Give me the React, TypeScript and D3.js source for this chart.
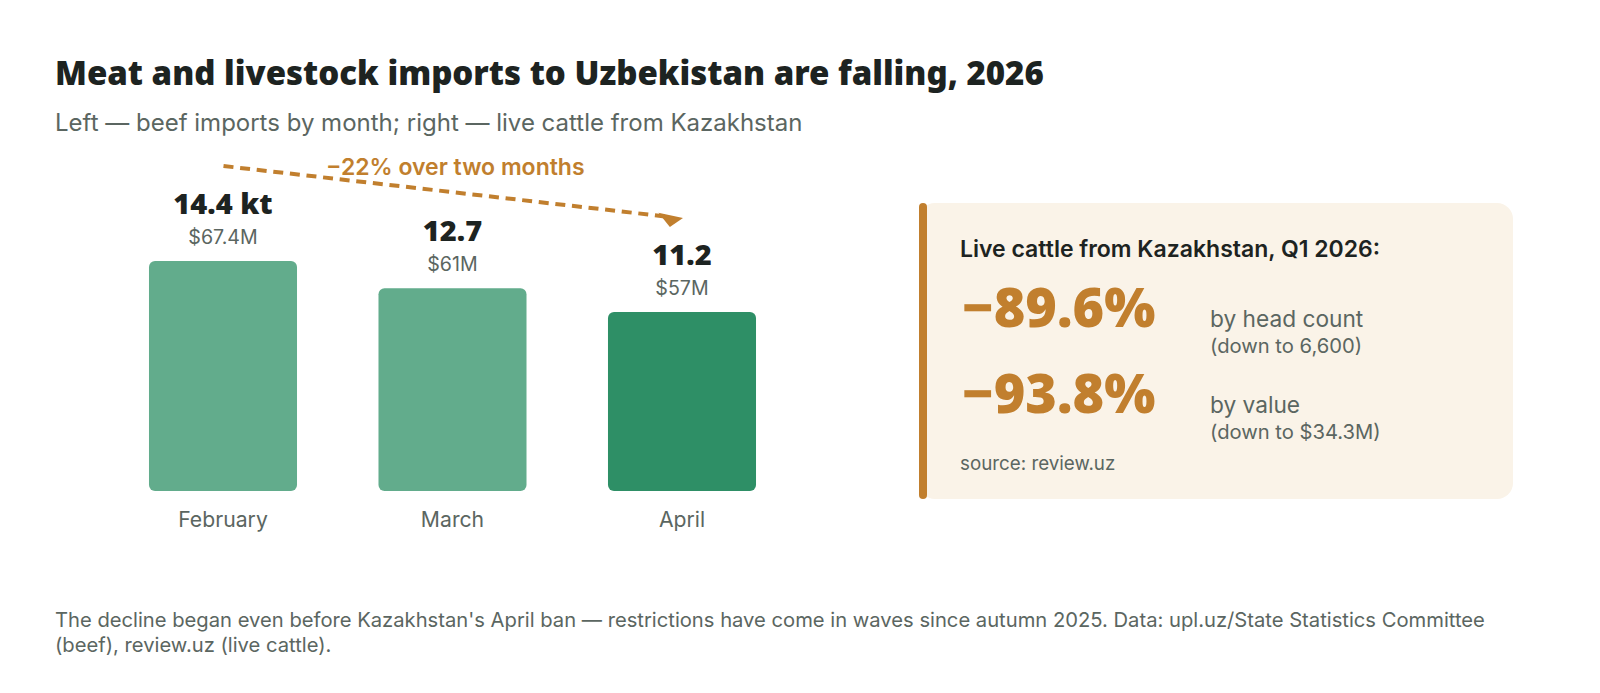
import React, { useEffect, useRef } from "react";
import * as d3 from "d3";

// beef imports by month, thousand tonnes / USD millions
const months = ["February", "March", "April"];
const volumes = [14.4, 12.7, 11.2];
const volumeLabels = ["14.4 kt", "12.7", "11.2"];
const valueLabels = ["$67.4M", "$61M", "$57M"];

// live cattle card
const cardStats = ["−89.6%", "−93.8%"];
const cardStatLabels = ["by head count", "by value"];
const cardStatNotes = ["(down to 6,600)", "(down to $34.3M)"];

const W = 1600;
const H = 693;
const BODY = "Inter, 'Noto Sans', sans-serif";
const HEAVY = "'Noto Sans', 'Open Sans', sans-serif";
const ORANGE = "#c17f2e";
const INK = "#1d2321";
const GREY = "#5b6661";

export default function App() {
    const svgRef = useRef<SVGSVGElement | null>(null);

    useEffect(() => {
        if (!svgRef.current) return;
        const svg = d3.select(svgRef.current);
        svg.selectAll("*").remove();

        svg.append("rect").attr("width", W).attr("height", H).attr("fill", "#fff");

        // heading
        svg.append("text")
            .attr("x", 55).attr("y", 85)
            .attr("font-family", HEAVY).attr("font-size", 33).attr("font-weight", 900)
            .attr("fill", INK)
            .text("Meat and livestock imports to Uzbekistan are falling, 2026");
        svg.append("text")
            .attr("x", 55).attr("y", 131)
            .attr("font-family", BODY).attr("font-size", 24)
            .attr("fill", GREY)
            .text("Left — beef imports by month; right — live cattle from Kazakhstan");

        // bars
        const x = d3.scaleBand<string>()
            .domain(months)
            .range([108.25, 796.75])
            .paddingInner(0.355)
            .paddingOuter(0.1775);
        const y = d3.scaleLinear().domain([0, 14.4]).range([491, 261]);

        const g = svg.append("g");
        months.forEach((m, i) => {
            const bx = x(m) ?? 0;
            const cx = bx + x.bandwidth() / 2;
            const top = y(volumes[i]);
            g.append("rect")
                .attr("x", bx).attr("y", top)
                .attr("width", x.bandwidth()).attr("height", y(0) - top)
                .attr("rx", 6)
                .attr("fill", i === months.length - 1 ? "#2e8f66" : "#62ac8c");
            g.append("text")
                .attr("x", cx).attr("y", top - 47)
                .attr("text-anchor", "middle")
                .attr("font-family", HEAVY).attr("font-size", 29).attr("font-weight", 900)
                .attr("fill", INK)
                .text(volumeLabels[i]);
            g.append("text")
                .attr("x", cx).attr("y", top - 17)
                .attr("text-anchor", "middle")
                .attr("font-family", BODY).attr("font-size", 19.6)
                .attr("fill", GREY)
                .text(valueLabels[i]);
            g.append("text")
                .attr("x", cx).attr("y", 527)
                .attr("text-anchor", "middle")
                .attr("font-family", BODY).attr("font-size", 21.2)
                .attr("fill", GREY)
                .text(m);
        });

        // trend arrow, from above February to above April
        svg.append("defs").append("marker")
            .attr("id", "arrowhead")
            .attr("markerUnits", "userSpaceOnUse")
            .attr("viewBox", "-15 -15 30 30")
            .attr("refX", 0).attr("refY", 0)
            .attr("markerWidth", 30).attr("markerHeight", 30)
            .attr("orient", "auto")
            .append("path")
            .attr("d", "M-12,-3 L13,-0.5 L1,10 Z")
            .attr("fill", ORANGE);

        const xStart = (x(months[0]) ?? 0) + x.bandwidth() / 2;
        const xEnd = (x(months[2]) ?? 0) + x.bandwidth() / 2;
        svg.append("line")
            .attr("x1", xStart + 0.5).attr("y1", 166)
            .attr("x2", xEnd - 12).attr("y2", 217)
            .attr("stroke", ORANGE).attr("stroke-width", 4)
            .attr("stroke-dasharray", "10 6.7")
            .attr("marker-end", "url(#arrowhead)");
        svg.append("text")
            .attr("x", 326).attr("y", 175)
            .attr("font-family", BODY).attr("font-size", 23).attr("font-weight", 600)
            .attr("fill", ORANGE)
            .text("−22% over two months");

        // card
        const card = svg.append("g");
        card.append("rect")
            .attr("x", 919).attr("y", 203).attr("width", 594).attr("height", 296)
            .attr("rx", 16).attr("fill", "#faf3e8");
        card.append("rect")
            .attr("x", 919).attr("y", 203).attr("width", 8).attr("height", 296)
            .attr("rx", 4).attr("fill", ORANGE);
        card.append("text")
            .attr("x", 960).attr("y", 257)
            .attr("font-family", BODY).attr("font-size", 23).attr("font-weight", 600)
            .attr("fill", INK)
            .text("Live cattle from Kazakhstan, Q1 2026:");
        cardStats.forEach((s, i) => {
            const by = 327 + i * 86;
            card.append("text")
                .attr("x", 962).attr("y", by)
                .attr("font-family", HEAVY).attr("font-size", 54).attr("font-weight", 900)
                .attr("fill", ORANGE)
                .text(s);
            card.append("text")
                .attr("x", 1210).attr("y", by)
                .attr("font-family", BODY).attr("font-size", 22.7)
                .attr("fill", GREY)
                .text(cardStatLabels[i]);
            card.append("text")
                .attr("x", 1210).attr("y", by + 26)
                .attr("font-family", BODY).attr("font-size", 20.2)
                .attr("fill", GREY)
                .text(cardStatNotes[i]);
        });
        card.append("text")
            .attr("x", 960).attr("y", 470)
            .attr("font-family", BODY).attr("font-size", 18.8)
            .attr("fill", GREY)
            .text("source: review.uz");

        // footnote
        const foot = svg.append("text")
            .attr("font-family", BODY).attr("font-size", 20.2)
            .attr("fill", GREY);
        foot.append("tspan").attr("x", 55).attr("y", 627)
            .text("The decline began even before Kazakhstan's April ban — restrictions have come in waves since autumn 2025. Data: upl.uz/State Statistics Committee");
        foot.append("tspan").attr("x", 55).attr("y", 652)
            .text("(beef), review.uz (live cattle).");
    }, []);

    return (
        <svg
            ref={svgRef}
            width={W}
            height={H}
            viewBox={`0 0 ${W} ${H}`}
            style={{ display: "block", position: "absolute", left: 0, top: 0 }}
        />
    );
}
